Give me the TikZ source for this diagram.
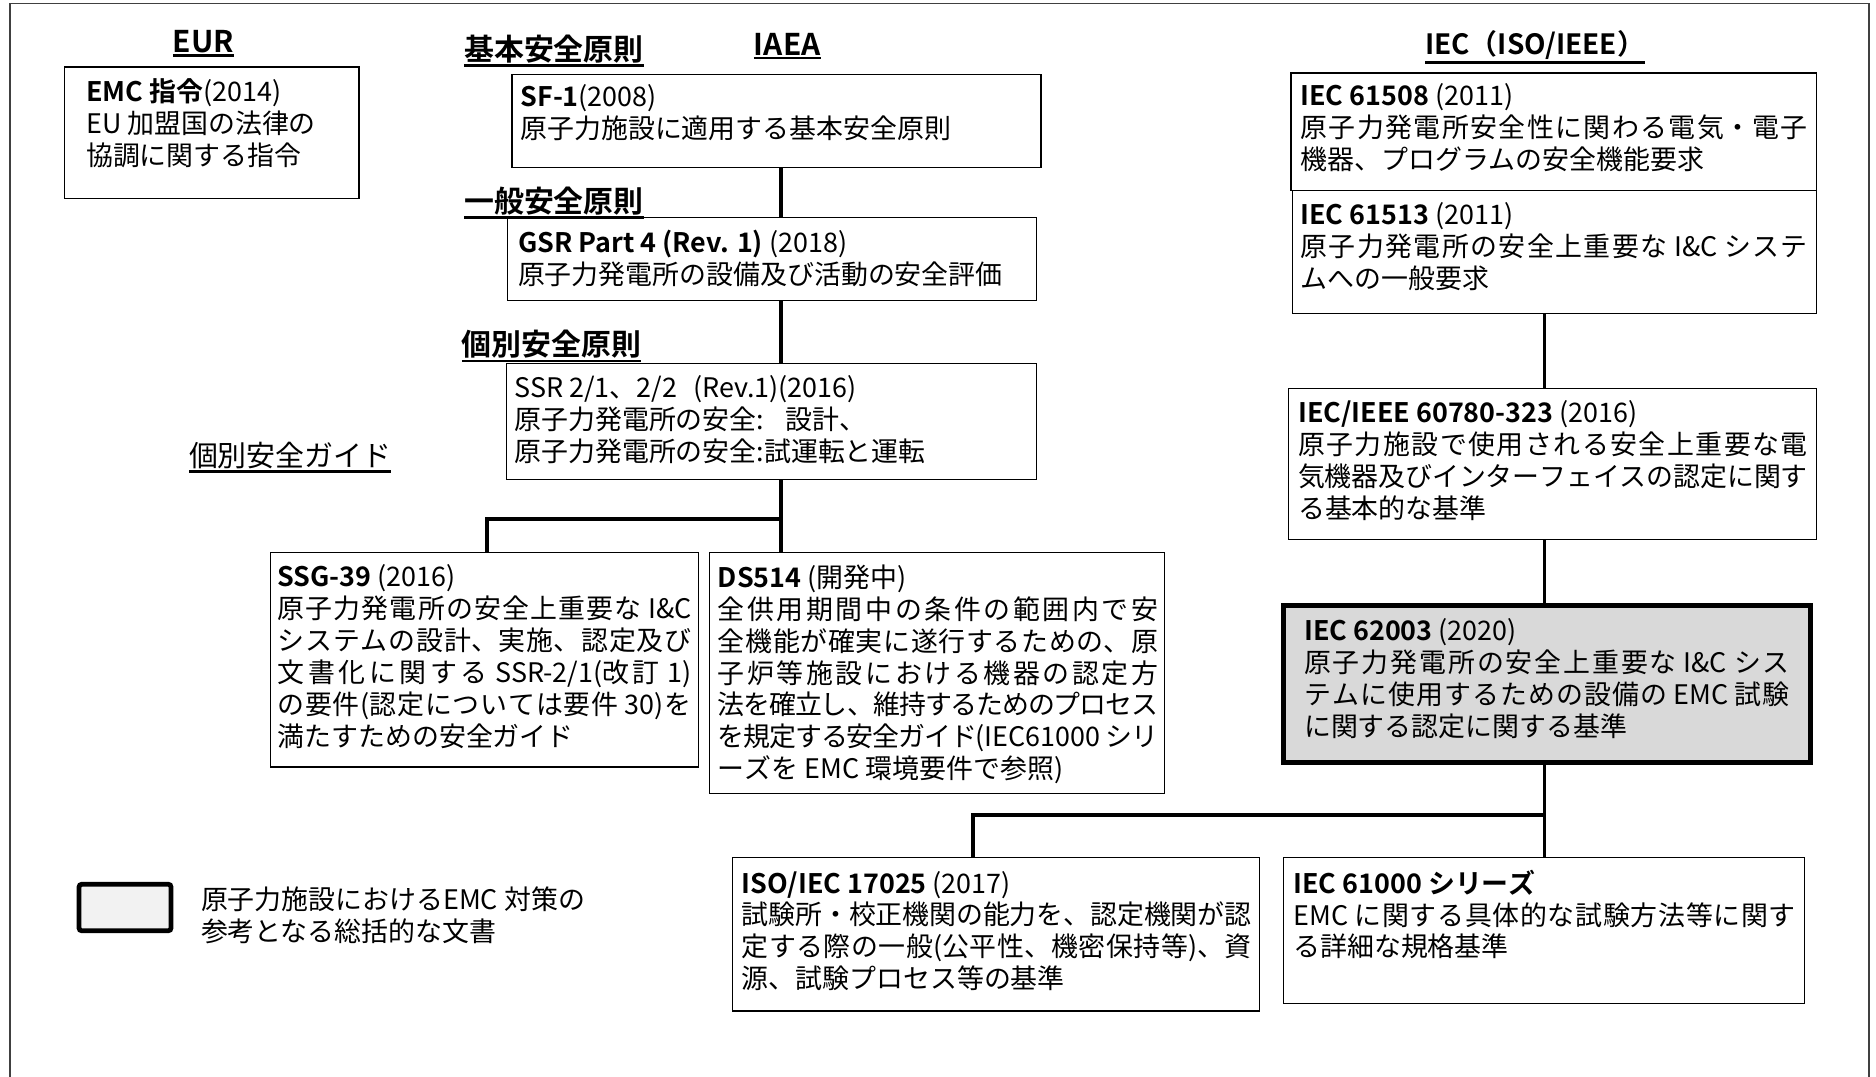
\documentclass[tikz,border=0pt]{standalone}
\usepackage{fontspec}
\setmainfont{Noto Sans CJK JP}[BoldFont={Noto Sans CJK JP Bold}]
\XeTeXlinebreaklocale "ja"
\XeTeXlinebreakskip=0pt plus 3pt minus 1pt
\setlength{\parindent}{0pt}
\definecolor{keygray}{HTML}{D9D9D9}
\definecolor{leggray}{HTML}{F2F2F2}
\definecolor{framegray}{HTML}{404040}
\newcommand{\mybody}{\fontsize{13.5pt}{16pt}\selectfont\parindent=0pt\relax}
\newcommand{\myhdr}{\fontsize{15pt}{18pt}\selectfont\bfseries}
\newcommand{\myguide}{\fontsize{14.5pt}{18pt}\selectfont}
\tikzset{
  box/.style={draw=black, line width=0.6pt, anchor=north west, inner sep=0pt, outer sep=0pt},
  keybox/.style={box, fill=keygray, line width=2.4pt},
  legbox/.style={box, fill=leggray, line width=2.4pt, rounded corners=1.5pt},
  txt/.style={anchor=north west, inner sep=0pt, outer sep=0pt, font=\mybody},
  jtxt/.style={txt, align=justify},
  ltxt/.style={txt, align=left},
  hdr/.style={inner sep=0pt, outer sep=0pt, font=\myhdr},
  guide/.style={inner sep=0pt, outer sep=0pt, font=\myguide},
  uline/.style={line width=1.2pt},
  conn/.style={line width=1.8pt},
  frame/.style={draw=framegray, line width=0.9pt}
}
\begin{document}
\begin{tikzpicture}[x=0.6pt, y=-0.6pt]
\useasboundingbox (0,0) rectangle (1568,900);

% outer frame
\draw[frame] (8.5,900) -- (8.5,3) -- (1562,3) -- (1562,900);

% headers
\node[hdr] (eurH) at (170,35) {EUR};
\node[hdr] (iaeaH) at (658,37) {IAEA};
\node[hdr, font=\fontsize{14pt}{18pt}\selectfont\bfseries] (iecH) at (1283,38) {IEC（ISO/IEEE）};
\node[hdr, anchor=west] (kihonH) at (388,41) {基本安全原則};
\node[hdr, anchor=west] (ippanH) at (388,168) {一般安全原則};
\node[hdr, anchor=west] (kobetsuH) at (386,288) {個別安全原則};
\node[guide, anchor=west] (guideH) at (158,381) {個別安全ガイド};
\foreach \h in {eurH,iaeaH,iecH,kihonH,ippanH,kobetsuH,guideH}{
  \draw[uline] ([yshift=-1.2pt]\h.south west) -- ([yshift=-1.2pt]\h.south east);
}

% EUR
\node[box, minimum width=246*0.6pt, minimum height=110*0.6pt] (emc) at (54,56) {};
\node[ltxt] (emcT) at (72,66) {\textbf{EMC 指令}(2014)\\EU 加盟国の法律の\\協調に関する指令};

% IAEA
\node[box, minimum width=442*0.6pt, minimum height=78*0.6pt] (sf1) at (428,62) {};
\node[ltxt] (sf1T) at (435,71) {\textbf{SF-1}(2008)\\原子力施設に適用する基本安全原則};

\node[box, minimum width=442*0.6pt, minimum height=69*0.6pt] (gsr) at (424,182) {};
\node[ltxt] (gsrT) at (433,192) {\textbf{GSR Part 4 (Rev. 1)} (2018)\\原子力発電所の設備及び活動の安全評価};

\node[box, minimum width=443*0.6pt, minimum height=97*0.6pt] (ssr) at (423,304) {};
\node[ltxt] (ssrT) at (430,314) {SSR 2/1、2/2\hspace{0.6em}(Rev.1)(2016)\\原子力発電所の安全:\hspace{0.8em}設計、\\原子力発電所の安全:試運転と運転};

\node[box, minimum width=358*0.6pt, minimum height=179*0.6pt] (ssg) at (226,462) {};
\node[jtxt, text width=346*0.6pt] (ssgT) at (232,472) {\textbf{SSG-39} (2016)\newline 原子力発電所の安全上重要な I\&C\linebreak システムの設計、実施、認定及び\linebreak 文書化に関する SSR-2/1(改訂 1)\linebreak の要件(認定については要件 30)を\linebreak 満たすための安全ガイド};

\node[box, minimum width=380*0.6pt, minimum height=201*0.6pt] (ds514) at (593,462) {};
\node[jtxt, text width=368*0.6pt] (ds514T) at (600,472) {\textbf{DS514} (開発中)\newline 全供用期間中の条件の範囲内で安\linebreak 全機能が確実に遂行するための、原\linebreak 子炉等施設における機器の認定方\linebreak 法を確立し、維持するためのプロセス\linebreak を規定する安全ガイド(IEC61000 シリ\linebreak ーズを EMC 環境要件で参照)};

% IEC
\node[box, minimum width=439*0.6pt, minimum height=98*0.6pt] (i61508) at (1079,61) {};
\node[jtxt, text width=424*0.6pt] (i61508T) at (1087,70) {\textbf{IEC 61508} (2011)\newline 原子力発電所安全性に関わる電気・電子\linebreak 機器、プログラムの安全機能要求};

\node[box, minimum width=438*0.6pt, minimum height=103*0.6pt] (i61513) at (1080,159) {};
\node[jtxt, text width=424*0.6pt] (i61513T) at (1087,169) {\textbf{IEC 61513} (2011)\newline 原子力発電所の安全上重要な I\&C システ\linebreak ムへの一般要求};

\node[box, minimum width=441*0.6pt, minimum height=126*0.6pt] (i60780) at (1077,325) {};
\node[jtxt, text width=426*0.6pt] (i60780T) at (1085,335) {\textbf{IEC/IEEE 60780-323} (2016)\newline 原子力施設で使用される安全上重要な電\linebreak 気機器及びインターフェイスの認定に関す\linebreak る基本的な基準};

\node[keybox, minimum width=440*0.6pt, minimum height=131*0.6pt] (i62003) at (1073,506) {};
\node[jtxt, text width=406*0.6pt] (i62003T) at (1090,517) {\textbf{IEC 62003} (2020)\newline 原子力発電所の安全上重要な I\&C シス\linebreak テムに使用するための設備の EMC 試験\linebreak に関する認定に関する基準};

\node[box, minimum width=441*0.6pt, minimum height=128*0.6pt] (iso) at (612,717) {};
\node[jtxt, text width=426*0.6pt] (isoT) at (620,728) {\textbf{ISO/IEC 17025} (2017)\newline 試験所・校正機関の能力を、認定機関が認\linebreak 定する際の一般(公平性、機密保持等)、資\linebreak 源、試験プロセス等の基準};

\node[box, minimum width=435*0.6pt, minimum height=122*0.6pt] (i61000) at (1073,717) {};
\node[jtxt, text width=420*0.6pt] (i61000T) at (1081,727) {\textbf{IEC 61000 シリーズ}\newline EMC に関する具体的な試験方法等に関す\linebreak る詳細な規格基準};

% legend
\node[legbox, minimum width=77*0.6pt, minimum height=39*0.6pt] (leg) at (66,739) {};
\node[ltxt] (legT) at (168,741) {原子力施設におけるEMC 対策の\\参考となる総括的な文書};

% connectors IAEA
\coordinate (iaeaX) at (653,0);
\coordinate (ssgX) at (407,0);
\coordinate (jA) at (653,434);
\draw[conn] (sf1.south -| iaeaX) -- (gsr.north -| iaeaX);
\draw[conn] (gsr.south -| iaeaX) -- (ssr.north -| iaeaX);
\draw[conn] (ssr.south -| iaeaX) -- (ds514.north -| iaeaX);
\draw[conn] (jA) -- (jA -| ssgX) -- (ssg.north -| ssgX);

% connectors IEC
\coordinate (iecX) at (1291,0);
\coordinate (isoX) at (813,0);
\coordinate (jB) at (1291,681);
\draw[conn] (i61513.south -| iecX) -- (i60780.north -| iecX);
\draw[conn] (i60780.south -| iecX) -- (i62003.north -| iecX);
\draw[conn] (i62003.south -| iecX) -- (i61000.north -| iecX);
\draw[conn] (jB) -- (jB -| isoX) -- (iso.north -| isoX);
\end{tikzpicture}
\end{document}
